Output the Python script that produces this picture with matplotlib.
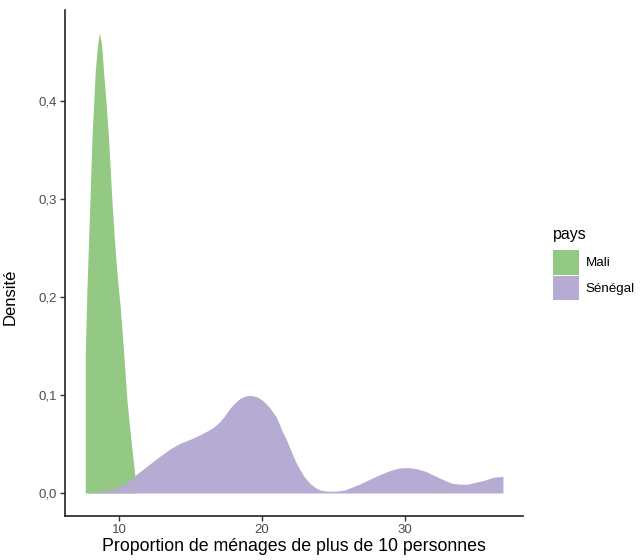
import numpy as np
import matplotlib
matplotlib.use("Agg")
import matplotlib.pyplot as plt
from matplotlib.ticker import FuncFormatter
from matplotlib.patches import Patch

plt.rcParams['font.family'] = ['Liberation Sans', 'DejaVu Sans']

# density curves
mali_x = [7.62, 7.74, 7.90, 8.09, 8.32, 8.46, 8.60, 8.75, 8.90, 9.08, 9.25,
          9.49, 9.72, 9.90, 10.07, 10.30, 10.54, 10.77, 11.00, 11.12, 11.20]
mali_y = [0.1425, 0.210, 0.278, 0.363, 0.431, 0.455, 0.470, 0.460, 0.431, 0.398, 0.363,
          0.298, 0.247, 0.215, 0.190, 0.1455, 0.095, 0.061, 0.0305, 0.015, 0.0]

sen_x = [7.62, 8.5, 9.2, 9.84, 10.5, 11.2, 12.0, 12.8, 13.57, 14.3, 15.0, 15.6,
         16.13, 16.6, 17.06, 17.4, 17.76, 18.1, 18.5, 18.9, 19.28, 19.7, 20.1, 20.56,
         21.03, 21.4, 21.73, 22.1, 22.43, 22.9, 23.36, 23.7, 24.06, 24.6, 25.2, 25.8,
         26.5, 27.0, 27.55, 28.3, 29.0, 29.6, 30.2, 30.8, 31.5, 32.2, 32.8, 33.3,
         33.85, 34.4, 35.0, 35.6, 36.2, 36.9]
sen_y = [0.0, 0.001, 0.003, 0.005, 0.010, 0.019, 0.028, 0.037, 0.045, 0.051, 0.055, 0.059,
         0.063, 0.067, 0.073, 0.079, 0.0865, 0.092, 0.097, 0.0993, 0.0997, 0.098, 0.094, 0.087,
         0.077, 0.064, 0.054, 0.041, 0.030, 0.018, 0.0099, 0.006, 0.003, 0.0018, 0.0018, 0.003,
         0.007, 0.010, 0.014, 0.019, 0.023, 0.0255, 0.026, 0.025, 0.022, 0.017, 0.013, 0.010,
         0.009, 0.009, 0.011, 0.013, 0.016, 0.017]

pays = ['Mali', 'Sénégal']
couleurs = ['#93C982', '#B6ABD3']

fig = plt.figure(figsize=(6.4, 5.6), dpi=100)
ax = fig.add_axes([0.1016, 0.0786, 0.7155, 0.9036])

ax.fill_between(mali_x, mali_y, 0, color=couleurs[0], linewidth=0)
ax.fill_between(sen_x, sen_y, 0, color=couleurs[1], linewidth=0)

ax.set_xlim(6.2, 38.3)
ax.set_ylim(-0.0235, 0.4935)
ax.set_xticks([10, 20, 30])
ax.set_yticks([0.0, 0.1, 0.2, 0.3, 0.4])
ax.yaxis.set_major_formatter(FuncFormatter(lambda v, p: f"{v:.1f}".replace('.', ',')))

for s in ['top', 'right']:
    ax.spines[s].set_visible(False)
for s in ['left', 'bottom']:
    ax.spines[s].set_linewidth(1.2)
    ax.spines[s].set_color('#222222')
ax.tick_params(axis='both', length=3.5, width=1.0, color='#333333',
               labelsize=9.5, labelcolor='#4D4D4D', pad=2.5)

ax.set_xlabel('Proportion de ménages de plus de 10 personnes', fontsize=12.8, labelpad=1)
ax.set_ylabel('Densité', fontsize=12)
ax.yaxis.set_label_coords(-0.104, 0.433)

handles = [Patch(facecolor=c, edgecolor='none', label=p) for p, c in zip(pays, couleurs)]
leg = fig.legend(handles=handles, title='pays', loc='upper left',
                 bbox_to_anchor=(0.853, 0.607), frameon=False, fontsize=9.6,
                 title_fontsize=11.5, handlelength=2.0, handleheight=2.45,
                 handletextpad=0.5, labelspacing=0.1, borderpad=0.0)
leg._legend_box.align = 'left'
leg._legend_box.sep = 6

fig.savefig('out.png', dpi=100)
